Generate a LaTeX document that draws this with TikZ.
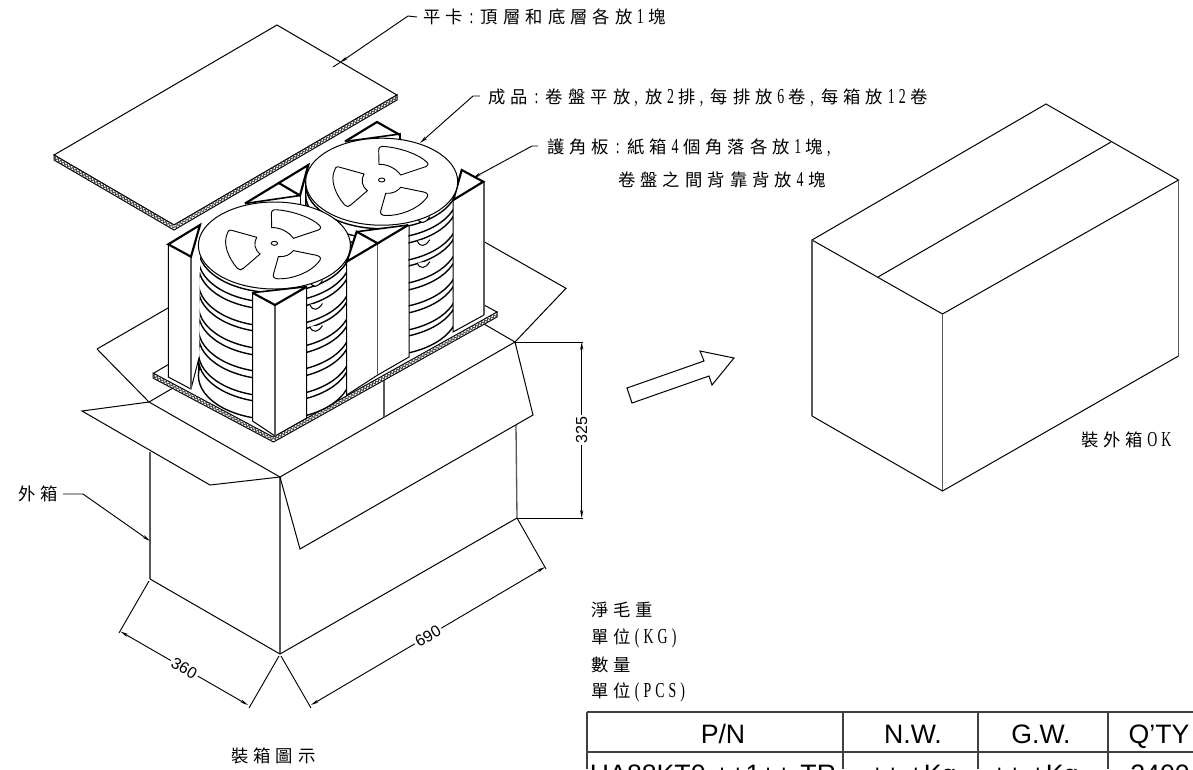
\documentclass[tikz,border=0pt]{standalone}
\usepackage{fontspec}
\setmainfont{Liberation Sans}
\newfontfamily\cjk[LetterSpace=29]{Noto Sans CJK TC}
\newfontfamily\latn[LetterSpace=19,FakeStretch=0.65]{Liberation Serif}
\newcommand{\latnsize}{\latn\fontsize{16}{18}\selectfont}
\newcommand{\lt}[1]{\kern3.4pt{\latnsize #1}\kern3.4pt}
\newcommand{\ltc}{\kern3pt{\latnsize ,}\kern5.6pt}
\newcommand{\ltk}{\kern5pt{\latnsize :}\kern5.6pt}
\newcommand{\ltw}[1]{\kern3pt{\latnsize #1}}
\usetikzlibrary{arrows.meta,decorations.pathmorphing}
\tikzset{
  ln/.style={draw=black,line width=0.75pt,line join=miter},
  vert/.style={draw=black!65,line width=1pt},
  flange/.style={draw=black,fill=white,line width=1.05pt},
  postface/.style={fill=white,draw=none},
  thick tri/.style={draw=black,line width=1.6pt,line join=miter},
  win/.style={draw=black,line width=0.7pt,fill=white},
  corr/.style={draw=black,line width=0.75pt,fill=white},
  zig/.style={draw=black!70,line width=0.7pt,decorate,decoration={zigzag,segment length=2.6pt,amplitude=1.1pt}},
  lead/.style={draw=black,line width=0.7pt},
  dim/.style={draw=black,line width=0.7pt,{Stealth[length=6pt,width=2.4pt]}-{Stealth[length=6pt,width=2.4pt]}},
  tip/.style={draw=black,line width=0.7pt,-{Stealth[length=6pt,width=2.4pt]}},
  lab/.style={font=\cjk\fontsize{13}{15}\selectfont,inner sep=0pt,anchor=west},
  dimtxt/.style={font=\fontsize{12}{14}\selectfont,fill=white,inner sep=1.5pt},
  cell/.style={font=\fontsize{20}{22}\selectfont,inner sep=0pt,anchor=base},
  tbl/.style={draw=black!75,line width=1pt}
}
\newcommand{\reelwindows}[2]{%
\begin{scope}[shift={(#1,#2)}]
 \draw[win] (-2.7,-15.7) -- (-3,-29) .. controls (-3.3,-33) and (-1,-34) .. (3,-33.5)
   .. controls (20,-32) and (38,-25) .. (45,-18) .. controls (47.5,-15.5) and (46,-14) .. (43,-13)
   -- (19,-5) .. controls (14,-12) and (5,-16) .. (-2.7,-15.7) -- cycle;
 \draw[win] (-17.7,-6) -- (-41,-12.5) .. controls (-45,-14) and (-46,-13) .. (-47,-10)
   .. controls (-52,0) and (-46,15) .. (-37,25) .. controls (-35,27) and (-33,27) .. (-31,25)
   -- (-14.3,10.7) .. controls (-20,6) and (-21,0) .. (-17.7,-6) -- cycle;
 \draw[win] (19,7.3) -- (42,12) .. controls (47,13) and (47,16) .. (44,19)
   .. controls (36,29) and (18,36) .. (4,35.5) .. controls (0,35.5) and (-1.5,34) .. (-1,31)
   -- (4,13.3) .. controls (11,14) and (16,11) .. (19,7.3) -- cycle;
 \draw[win] (0,0) ellipse [x radius=3.2,y radius=2];
\end{scope}}
\newcommand{\reelstack}[2]{%
 \fill[white] (#1-76,#2) rectangle (#1+76,#2+130);
 \draw[ln] (#1-76,#2) -- (#1-76,#2+130) (#1+76,#2) -- (#1+76,#2+130);
 \foreach \o in {130,113,107,90,83,67,60,43,37,20,13,3}{
   \draw[flange] (#1,#2+\o) ellipse [x radius=76,y radius=44];
 }
 \foreach \o in {0,23,45}{
   \draw[ln,fill=white] (#1+35.5,#2+36+\o) .. controls (#1+38,#2+43+\o) and (#1+44,#2+42+\o) .. (#1+48,#2+35+\o);
 }}
\begin{document}
\begin{tikzpicture}[x=0.75pt,y=-0.75pt]
\useasboundingbox (0,0) rectangle (1193,769);
\clip (0,0) rectangle (1193,769);
\fill[white] (0,0) rectangle (1193,769);

% ---------- outer box, open
\coordinate (bL) at (150,579); \coordinate (bF) at (280,654); \coordinate (bR) at (517,518);
\coordinate (rimL) at (149,402); \coordinate (rimF) at (280,477); \coordinate (rimR) at (515,342);
\coordinate (rimB) at (484,324);
\draw[vert] (150,452) -- (bL);
\draw[vert] (rimF) -- (bF);
\draw[vert] (516,425) -- (bR);
\draw[ln] (bL) -- (bF) -- (bR);
\draw[ln] (rimL) -- (rimF) -- (rimR) -- (533,415) -- (300,549) -- (rimF);
\draw[ln] (97,349) -- (rimL) -- (82,411) -- (210,485) -- (rimF);
\draw[ln] (97,349) -- (168,308);
\draw[ln] (rimL) -- (173,388);
\draw[ln] (484,241.7) -- (566,288.3) -- (rimR) -- (rimB);
\draw[vert] (384,380) -- (384,417);

% ---------- bottom card
\draw[ln] (154,373) -- (170,363.5) (484,305) -- (497,312);
\draw[corr] (153,373) -- (273,437) -- (497,312) -- (497,317) -- (273.5,442) -- (153,378) -- cycle;
\draw[zig] (153,375.5) -- (273.3,439.5) -- (497,314.5);

% ---------- back posts
\draw[thick tri] (345,141.5) -- (377,122) -- (400,135);
\draw[ln,line width=1.2pt] (345,141.5) -- (400,134) -- (400,140);
\draw[ln] (300,195) -- (300,225) (306,198) -- (306,225);
\draw[thick tri] (245,203.5) -- (308.3,165) -- (300,195.5) -- (278.3,182.7);
\draw[ln,line width=1.2pt] (245,203.5) -- (300,195.5);

% ---------- back reel stack and its right post
\reelstack{381.7}{181.7}
\path[postface] (453,200) -- (461.7,170) -- (484,181.7) -- (484,315) -- (453,332) -- cycle;
\draw[vert] (484,181.7) -- (484,315);
\draw[ln] (453,200) -- (453,332) -- (484,315);
\draw[thick tri] (453.3,200) -- (461.7,170) -- (483.3,181.7) -- cycle;
\draw[ln,fill=white] (381.7,181.7) ellipse [x radius=76,y radius=43.5];
\reelwindows{381.7}{180}

% ---------- front reel stack
\reelstack{274.4}{245.5}

% ---------- middle post
\path[postface] (346.7,261.7) -- (356.7,231.7) -- (408.3,225) -- (409,357) -- (377.7,375) -- (346.7,395) -- cycle;
\draw[ln] (346.7,261.7) -- (346.7,395) -- (377.7,375) -- (409,357) -- (409,225);
\draw[vert] (377.7,243.3) -- (377.7,375);
\draw[ln,line width=1.2pt] (356.7,231.7) -- (408.3,225);
\draw[thick tri] (346.7,261.7) -- (356.7,231.7) -- (377.7,243.3) -- cycle;
\draw[thick tri] (377.7,243.3) -- (408.3,225);

% ---------- left post
\path[postface] (168.3,244.3) -- (200,225) -- (199.3,356.7) -- (191,389) -- (168.3,377) -- cycle;
\draw[ln] (168.3,244.3) -- (168.3,377) -- (191,389) -- (199.3,356.7);
\draw[vert] (191,256.7) -- (191,389);
\draw[thick tri] (168.3,244.3) -- (200,225) -- (191,256.7) -- cycle;

% ---------- front reel top disc
\draw[ln,fill=white] (274.4,245.5) ellipse [x radius=76,y radius=43.5];
\reelwindows{274.4}{243.3}

% ---------- front post
\path[postface] (252.3,292.7) -- (306.7,286.7) -- (306.7,418) -- (275,436) -- (252.5,421) -- cycle;
\draw[ln] (252.5,292.7) -- (252.5,421) -- (275,436) -- (306.7,418) -- (306.7,286.7);
\draw[vert] (275,305) -- (275,436);
\draw[ln,line width=1.2pt] (252.3,292.7) -- (306.7,286.7);
\draw[thick tri] (252.3,292.7) -- (275,305) -- (306.7,286.7);

% ---------- top card
\draw[ln,fill=white] (54,155) -- (277,25) -- (397,95) -- (174,225) -- cycle;
\draw[corr] (54,155) -- (174,225) -- (397,95) -- (397,100) -- (174,230) -- (54,160) -- cycle;
\draw[zig] (54,157.5) -- (174,227.5) -- (397,97.5);

% ---------- closed box
\coordinate (cL) at (812,240); \coordinate (cT) at (1046,104); \coordinate (cR) at (1178.5,180);
\coordinate (cF) at (942.5,314); \coordinate (cB) at (942.5,491);
\coordinate (cLb) at (812,416); \coordinate (cRb) at (1178.5,356);
\draw[ln] (cF) -- (cL) -- (cT) -- (cR) -- cycle;
\draw[vert] (cL) -- (cLb) (cF) -- (cB) (cR) -- (cRb);
\draw[ln] (cLb) -- (cB) -- (cRb);
\draw[ln] (878,277) -- (1111,142);
% arrow
\draw[ln] (627,388) -- (704,361) -- (700,351) -- (734,358) -- (712,385) -- (709,376) -- (632,403) -- cycle;

% ---------- labels and leaders
\node[lab] (t1) at (423,17) {平卡\ltk 頂層和底層各放\lt{1}塊};
\node[lab] (t2) at (488,98) {成品\ltk 卷盤平放\ltc 放\lt{2}排\ltc 每排放\lt{6}卷\ltc 每箱放\lt{12}卷};
\node[lab] (t3) at (547,148) {護角板\ltk 紙箱\lt{4}個角落各放\lt{1}塊\ltc};
\node[lab] (t4) at (618,180) {卷盤之間背靠背放\lt{4}塊};
\node[lab] (t5) at (1081,440) {裝外箱\ltw{OK}};
\node[lab] (t6) at (18,494) {外箱};
\node[lab] (t7) at (231,756) {裝箱圖示};
\node[lab] (t8) at (591,610) {淨毛重};
\node[lab] (t9) at (591,638) {單位\ltw{(KG)}};
\node[lab] (t10) at (591,665) {數量};
\node[lab] (t11) at (591,692) {單位\ltw{(PCS)}};

\coordinate (k1) at (408,16); \coordinate (a1) at (340,62.5); \coordinate (e1) at (333,67);
\draw[tip] (t1.west) ++(-6,0) -- (k1) -- (a1);
\draw[lead] (a1) -- (e1);
\coordinate (k2) at (473,96); \coordinate (a2) at (420,143);
\draw[tip] (t2.west) ++(-8,-2) -- (k2) -- (a2);
\coordinate (k3) at (532,146); \coordinate (a3) at (473,178);
\draw[tip] (t3.west) ++(-9,-2) -- (k3) -- (a3);
\coordinate (k4) at (83,494); \coordinate (a4) at (150,541);
\draw[tip] (t6.west) ++(45,0) -- (k4) -- (a4);

% ---------- dimensions
\coordinate (d1a) at (583,342); \coordinate (d1b) at (583,518);
\draw[lead] (rimR) -- (d1a) (bR) -- (d1b);
\draw[dim] (581.7,342) -- node[dimtxt,rotate=90] (n325) {325} (581.7,518);
\coordinate (d2a) at (119,633); \coordinate (d2b) at (249,708);
\coordinate (d3a) at (311,708); \coordinate (d3b) at (546,569);
\draw[lead] (149,581) -- (d2a) (279,656) -- (d2b) (281,656) -- (d3a) (bR) -- (d3b);
\draw[dim] (120.5,631.5) -- node[dimtxt,rotate=-30] (n360) {360} (248,705);
\draw[dim] (311,705) -- node[dimtxt,rotate=30,pos=0.5] (n690) {690} (545,567);

% ---------- table
\draw[tbl] (587,712) -- (1193,712) (587,752) -- (1193,752);
\draw[tbl] (587,712) -- (587,769) (843,712) -- (843,769) (978,712) -- (978,769) (1108,712) -- (1108,769);
\node[cell] (h1) at (723,743) {P/N};
\node[cell] (h2) at (913,743) {N.W.};
\node[cell] (h3) at (1041,743) {G.W.};
\node[cell] (h4) at (1159,743) {Q'TY};
\node[cell] (c1) at (713,783) {HA88KT0-++1++-TR};
\node[cell] (c2) at (913,783) {++.+Kg};
\node[cell] (c3) at (1035,783) {++.+Kg};
\node[cell] (c4) at (1160,783) {2400};
\end{tikzpicture}
\end{document}
